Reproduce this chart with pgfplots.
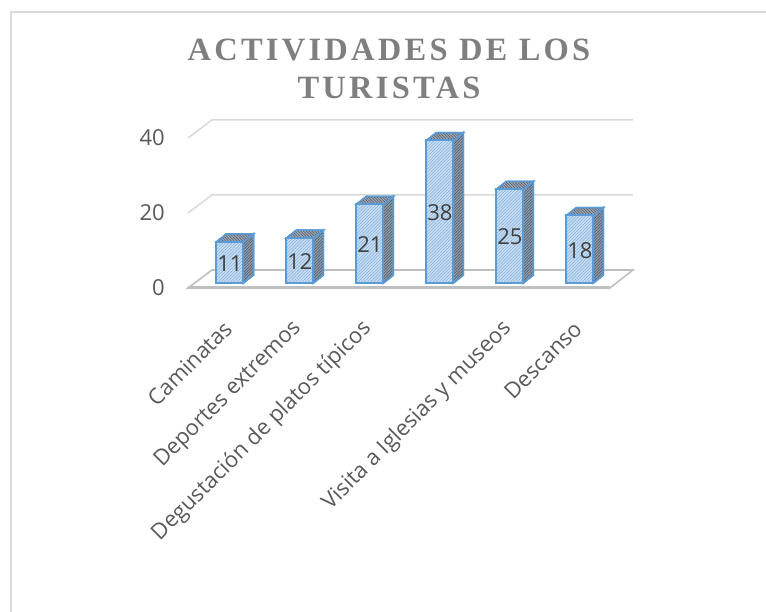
\documentclass[border=0pt]{standalone}
\usepackage{pgfplots}
\pgfplotsset{compat=1.18}
\usepackage{pgfplotstable}
\usepackage{fontspec}
\setmainfont{Open Sans}
\newfontfamily\titlefont[LetterSpace=10]{Liberation Serif}
\usetikzlibrary{patterns.meta}
\definecolor{titlegray}{HTML}{7F7F7F}
\definecolor{ticktext}{HTML}{595959}
\definecolor{labtext}{HTML}{404040}
\definecolor{gridc}{HTML}{D9D9D9}
\definecolor{floorc}{HTML}{BFBFBF}
\definecolor{barline}{HTML}{5B9BD5}
\definecolor{frontfill}{HTML}{C9DDF1}
\definecolor{fronthatch}{HTML}{7FAEDD}
\definecolor{sidefill}{HTML}{949EAA}
\definecolor{sidehatch}{HTML}{56606C}
\definecolor{topfill}{HTML}{A4ADB8}

\pgfplotstableread{
x v
0 11
1 12
2 21
3 38
4 25
5 18
}\datatable

\def\hw{0.193}
\def\dx{0.143}
\def\dy{2.13}

\begin{document}
\begin{tikzpicture}
\path[use as bounding box] (0,0) rectangle (766pt,612pt);
\draw[gridc, line width=2pt] (11pt,0pt) -- (11pt,600pt) -- (766pt,600pt);
\node[anchor=base, text=titlegray, font={\titlefont\bfseries\fontsize{32.5}{36}\selectfont}] at (389pt,551pt) {ACTIVIDADES DE LOS};
\node[anchor=base, text=titlegray, font={\titlefont\bfseries\fontsize{32.5}{36}\selectfont}] at (389pt,513pt) {TURISTAS};
\begin{axis}[
  at={(188pt,324pt)}, anchor=south west,
  scale only axis, width=422pt, height=168pt,
  xmin=-0.6, xmax=5.43, ymin=-1.333, ymax=43.467,
  clip=false,
  axis line style={draw=none},
  major tick length=0pt,
  /pgf/number format/assume math mode=true,
  ytick={-1.333,18.667,38.667}, yticklabels={0,20,40},
  yticklabel style={anchor=east, inner sep=0pt, xshift=-23pt, text=ticktext, font=\fontsize{22}{26}\selectfont},
  xtick={0,1,2,3,4,5},
  xticklabels={Caminatas, Deportes extremos, Degustación de platos típicos, {}, Visita a Iglesias y museos, Descanso},
  xticklabel style={xshift=-2pt, yshift=-37pt, rotate=45, anchor=east, inner sep=0pt, text=ticktext, font=\fontsize{22}{26}\selectfont},
]
% back wall gridlines
\addplot[gridc, line width=1.5pt, mark=none] coordinates {(-0.6,38.667) (-0.257,43.467) (5.757,43.467)};
\addplot[gridc, line width=1.5pt, mark=none] coordinates {(-0.6,18.667) (-0.257,23.467) (5.757,23.467)};
% floor
\addplot[floorc, line width=1.6pt, mark=none, fill=white] coordinates {(-0.6,-1.333) (5.43,-1.333) (5.757,3.467) (-0.257,3.467)} -- cycle;
\addplot[floorc, line width=3pt, mark=none] coordinates {(-0.6,-1.333) (5.43,-1.333)};
% side and top faces
\pgfplotsinvokeforeach{0,...,5}{
  \pgfplotstablegetelem{#1}{v}\of\datatable
  \pgfmathsetmacro{\va}{\pgfplotsretval}
  \pgfmathsetmacro{\vb}{\pgfplotsretval+\dy}
  \pgfmathsetmacro{\xa}{#1-\hw}
  \pgfmathsetmacro{\xb}{#1+\hw}
  \pgfmathsetmacro{\xc}{#1-\hw+\dx}
  \pgfmathsetmacro{\xd}{#1+\hw+\dx}
  \edef\temp{%
    \noexpand\addplot[barline, line width=1.5pt, mark=none, fill=sidefill, postaction={pattern={Lines[angle=45,distance=2pt,line width=0.7pt]}, pattern color=sidehatch}] coordinates {(\xb,0) (\xd,\dy) (\xd,\vb) (\xb,\va)} -- cycle;
    \noexpand\addplot[barline, line width=1.5pt, mark=none, fill=topfill, postaction={pattern={Lines[angle=135,distance=2pt,line width=0.7pt]}, pattern color=sidehatch}] coordinates {(\xa,\va) (\xc,\vb) (\xd,\vb) (\xb,\va)} -- cycle;
  }
  \temp
}
% front faces
\addplot[ybar, bar width=27pt, draw=barline, line width=2pt, fill=frontfill, postaction={pattern={Lines[angle=45,distance=2.2pt,line width=0.5pt]}, pattern color=fronthatch}] table[x=x, y=v] {\datatable};
% data labels
\addplot[draw=none, mark=none, nodes near coords, point meta=explicit,
  every node near coord/.style={anchor=center, yshift=-1pt, text=labtext, font=\fontsize{22}{26}\selectfont}]
  table[x=x, y expr=\thisrow{v}/2, meta=v] {\datatable};
\end{axis}
\end{tikzpicture}
\end{document}
